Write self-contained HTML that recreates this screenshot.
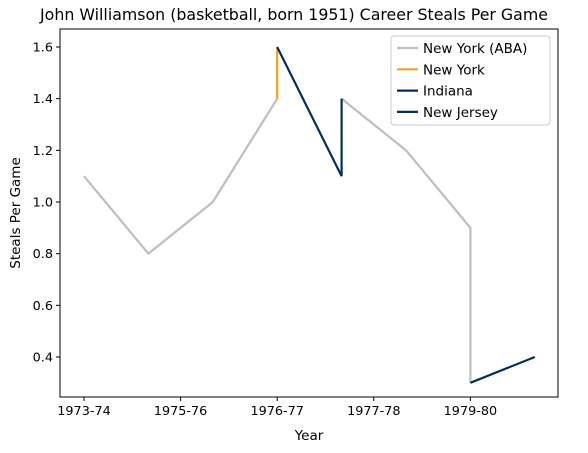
<!DOCTYPE html>
<html><head><meta charset="utf-8"><style>body{margin:0;background:#fff}svg{display:block;font-family:"DejaVu Sans","Liberation Sans",sans-serif}</style></head>
<body>
<svg id="chart" width="588" height="453"></svg>
<script>
const seasonTicks=[0,1.5,3,4.5,6];
const tickLabels=["1973-74","1975-76","1976-77","1977-78","1979-80"];
const yTicks=[0.4,0.6,0.8,1.0,1.2,1.4,1.6];
const abaX=[0,1,2,3,null,4,5,6,6];
const abaY=[1.1,0.8,1.0,1.4,null,1.4,1.2,0.9,0.3];
const nyX=[3,3];const nyY=[1.4,1.6];
const indX=[3,4,4];const indY=[1.6,1.1,1.4];
const njX=[6,7];const njY=[0.3,0.4];
const L=60,R=558,T=29,B=397;
const xs=v=>84+v*64.4;
const ys=v=>357-(v-0.4)*(310/1.2);
const svg=document.getElementById('chart');const NS='http://www.w3.org/2000/svg';
function mk(t,a,p){const e=document.createElementNS(NS,t);for(const k in a)e.setAttribute(k,a[k]);(p||svg).appendChild(e);return e;}
function txt(x,y,s,a,p){const e=mk('text',Object.assign({x:x,y:y,'font-size':12,fill:'#000'},a||{}),p);e.textContent=s;return e;}
const t=txt(294,20,"John Williamson (basketball, born 1951) Career Steals Per Game",{'text-anchor':'middle','font-size':15.8});

function series(X,Y,color,name){let d='',m=true;X.forEach((x,i)=>{if(x===null){m=true;return;}d+=(m?'M':'L')+xs(x)+','+ys(Y[i]);m=false;});
const p=mk('path',{d:d,fill:'none',stroke:color,'stroke-width':2.2});
}
series(abaX,abaY,'#bebebe','series-new-york-aba');
series(nyX,nyY,'#f5a01a','series-new-york');
series(indX,indY,'#002d62','series-indiana');
series(njX,njY,'#002d62','series-new-jersey');
const ax=mk('rect',{x:L,y:T,width:R-L,height:B-T,fill:'none',stroke:'#000','stroke-width':1});

seasonTicks.forEach((v,i)=>{const x=xs(v);mk('line',{x1:x,x2:x,y1:B,y2:B+4,stroke:'#000'});
const e=txt(x,B+18,tickLabels[i],{'text-anchor':'middle','font-size':12.8});});
yTicks.forEach(v=>{const y=ys(v);mk('line',{x1:L-4,x2:L,y1:y,y2:y,stroke:'#000'});
const e=txt(L-7,y+4.5,v.toFixed(1),{'text-anchor':'end','font-size':12.8});});
const xt=txt(309,440,"Year",{'text-anchor':'middle','font-size':13.5});
const yt=txt(20,213,"Steals Per Game",{'text-anchor':'middle','font-size':13.5,transform:'rotate(-90 20 213)'});
const lg=mk('g',{});
mk('rect',{x:391,y:36,width:159,height:89,rx:3,fill:'#fff',stroke:'#ccc'},lg);
const names=["New York (ABA)","New York","Indiana","New Jersey"];const cols=['#bebebe','#f5a01a','#002d62','#002d62'];
names.forEach((n,i)=>{const y=48+i*21.3;mk('line',{x1:397,x2:418,y1:y,y2:y,stroke:cols[i],'stroke-width':2.2},lg);
const e=txt(423,y+5,n,{'font-size':13.5},lg);});
</script>
</body></html>
